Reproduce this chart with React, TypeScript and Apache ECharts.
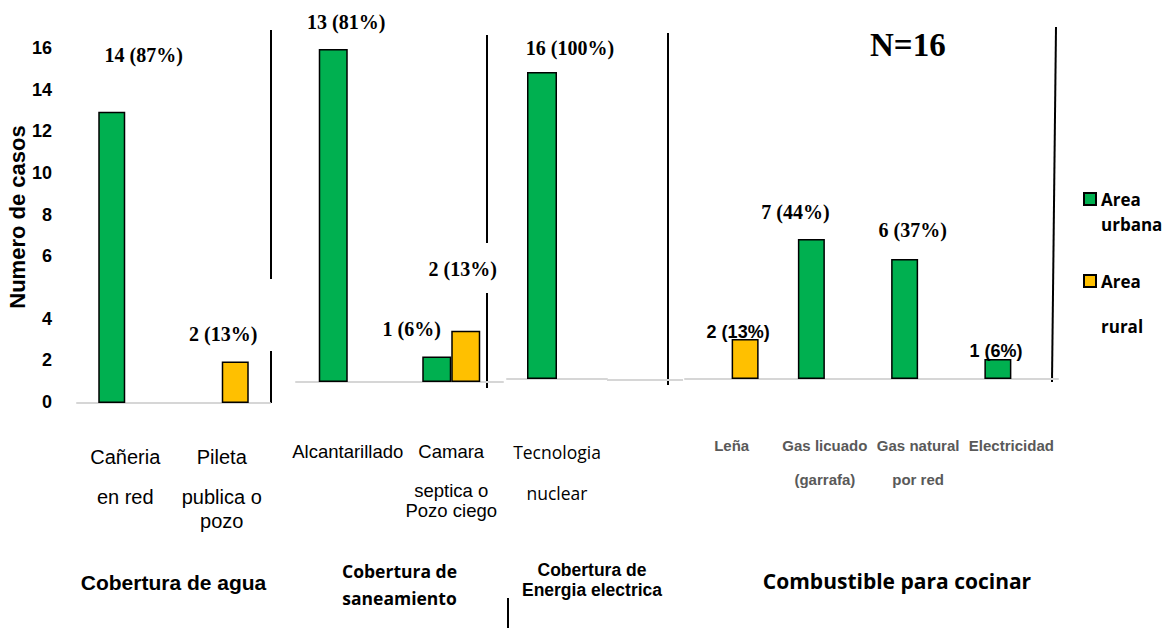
import React, { useEffect, useRef } from "react";
import * as echarts from "echarts";

// ---------------- DATA ----------------
const SERIES_URBAN = "Area urbana";
const SERIES_RURAL = "Area rural";

const yTickLabels = ["0", "", "2", "", "4", "", "", "6", "", "8", "", "10", "", "12", "", "14", "", "16"];

const aguaCategories = ["Cañeria\nen red", "Pileta\npublica o\npozo"];
const aguaUrban = [14, null];
const aguaRural = [null, 2];
const aguaUrbanLabels = ["14 (87%)", ""];
const aguaRuralLabels = ["", "2 (13%)"];
const aguaTitle = "Cobertura de agua";

const saneamientoCategories = ["Alcantarillado", "Camara\nseptica o\nPozo ciego"];
const saneamientoUrban = [13, 1];
const saneamientoRural = [null, 2];
const saneamientoUrbanLabels = ["13 (81%)", "1 (6%)"];
const saneamientoRuralLabels = ["", "2 (13%)"];
const saneamientoTitle = "Cobertura de\nsaneamiento";

const energiaCategories = ["Tecnologia\nnuclear"];
const energiaUrban = [16];
const energiaRural = [null];
const energiaUrbanLabels = ["16 (100%)"];
const energiaRuralLabels = [""];
const energiaTitle = "Cobertura de\nEnergia electrica";

const combustibleCategories = ["Leña", "Gas licuado\n(garrafa)", "Gas natural\npor red", "Electricidad"];
const combustibleUrban = [null, 7, 6, 1];
const combustibleRural = [2, null, null, null];
const combustibleUrbanLabels = ["", "7 (44%)", "6 (37%)", "1 (6%)"];
const combustibleRuralLabels = ["2 (13%)", "", "", ""];
const combustibleTitle = "Combustible para cocinar";

const yAxisName = "Numero de casos";
const totalText = "N=16";
// leading blank lines keep the first text line level with the legend square
const legendText: Record<string, string> = {
  [SERIES_URBAN]: "\nArea\nurbana",
  [SERIES_RURAL]: "\n\nArea\n\nrural",
};

// ---------------- STYLE / LAYOUT ----------------
const GREEN = "#00B050";
const YELLOW = "#FFC000";
const AXIS_GRAY = "#d6d6d6";

const SERIF = { fontFamily: "Liberation Serif", fontWeight: "bold", fontSize: 20, color: "#000" };
const SANS = { fontFamily: "Liberation Sans", fontWeight: "bold", fontSize: 18, color: "#000" };

type LL = { offset: number[]; font: any } | null;

const PANELS = [
  {
    cats: aguaCategories, urban: aguaUrban, rural: aguaRural,
    urbanLabels: aguaUrbanLabels, ruralLabels: aguaRuralLabels, title: aguaTitle,
    grid: { left: 77, top: 70, width: 193, height: 333 }, max: 16, barWidth: 27,
    catFont: { fontFamily: "Liberation Sans", fontSize: 20, color: "#000", fontWeight: "normal" },
    lineHeights: [56, 24, 24], labelMargin: 26,
    titleGap: 167, titlePad: [0, 0, 0, 0],
    titleFont: { fontFamily: "Liberation Sans", fontWeight: "bold", fontSize: 21, lineHeight: 24, color: "#000" },
    urbanLL: [{ offset: [32, -42], font: SERIF }, null] as LL[],
    ruralLL: [null, { offset: [-12, -12], font: SERIF }] as LL[],
  },
  {
    cats: saneamientoCategories, urban: saneamientoUrban, rural: saneamientoRural,
    urbanLabels: saneamientoUrbanLabels, ruralLabels: saneamientoRuralLabels, title: saneamientoTitle,
    grid: { left: 296, top: 49, width: 207, height: 333 }, max: 13, barWidth: 29,
    catFont: { fontFamily: "Liberation Sans", fontSize: 18.5, color: "#000", fontWeight: "normal" },
    lineHeights: [56, 22, 18], labelMargin: 41,
    titleGap: 175, titlePad: [0, 0, 0, 0],
    titleFont: { fontFamily: "Open Sans", fontWeight: "bold", fontSize: 17.5, lineHeight: 27, color: "#000" },
    urbanLL: [{ offset: [13, -12], font: SERIF }, { offset: [-25, -12], font: SERIF }] as LL[],
    ruralLL: [null, { offset: [-3, -47], font: SERIF }] as LL[],
  },
  {
    cats: energiaCategories, urban: energiaUrban, rural: energiaRural,
    urbanLabels: energiaUrbanLabels, ruralLabels: energiaRuralLabels, title: energiaTitle,
    grid: { left: 507, top: 72, width: 100, height: 307 }, max: 16, barWidth: 30,
    catFont: { fontFamily: "Open Sans", fontSize: 17.5, color: "#000", fontWeight: "normal" },
    lineHeights: [56, 26], labelMargin: 45,
    titleGap: 181, titlePad: [0, 0, 0, 70],
    titleFont: { fontFamily: "Liberation Sans", fontWeight: "bold", fontSize: 17.5, lineHeight: 20, color: "#000" },
    urbanLL: [{ offset: [28, -9], font: SERIF }] as LL[],
    ruralLL: [null] as LL[],
  },
  {
    cats: combustibleCategories, urban: combustibleUrban, rural: combustibleRural,
    urbanLabels: combustibleUrbanLabels, ruralLabels: combustibleRuralLabels, title: combustibleTitle,
    grid: { left: 685, top: 59, width: 373, height: 320 }, max: 16, barWidth: 27,
    catFont: { fontFamily: "Liberation Sans", fontSize: 15, color: "#595959", fontWeight: "bold" },
    lineHeights: [40, 28], labelMargin: 46,
    titleGap: 189, titlePad: [0, 0, 0, 51],
    titleFont: { fontFamily: "Open Sans", fontWeight: "bold", fontSize: 21, lineHeight: 26, color: "#000" },
    urbanLL: [null, { offset: [-16, -12], font: SERIF }, { offset: [8, -14], font: SERIF }, { offset: [-2, 6], font: SANS }] as LL[],
    ruralLL: [{ offset: [-7, 7], font: SANS }, null, null, null] as LL[],
  },
];

// decorative separators (not data marks)
const SEPARATORS = [
  [271, 30, 271, 279],
  [271, 351, 271, 403],
  [487, 35, 487, 243],
  [487, 293, 487, 388],
  [668, 33, 668, 385],
  [1056, 27, 1052, 382],
  [508, 598, 508, 628],
];

function buildData(values: (number | null)[], labels: string[], layout: LL[]) {
  return values.map((v, i) => {
    if (v == null) return null;
    const ll = layout[i];
    if (!ll || !labels[i]) return { value: v, label: { show: false } };
    return {
      value: v,
      label: {
        show: true,
        position: "top",
        distance: 5,
        formatter: labels[i],
        offset: ll.offset,
        ...ll.font,
      },
    };
  });
}

function buildOption() {
  const grid: any[] = [];
  const xAxis: any[] = [];
  const yAxis: any[] = [];
  const series: any[] = [];

  PANELS.forEach((p, idx) => {
    grid.push({ ...p.grid, containLabel: false });
    const rich: any = {};
    p.lineHeights.forEach((lh, i) => {
      rich["l" + i] = { ...p.catFont, lineHeight: lh };
    });
    xAxis.push({
      type: "category",
      gridIndex: idx,
      data: p.cats,
      axisTick: { show: false },
      axisLine: { show: true, lineStyle: { color: AXIS_GRAY, width: 2 } },
      axisLabel: {
        interval: 0,
        margin: p.labelMargin,
        formatter: (v: string) => v.split("\n").map((s, i) => `{l${i}|${s}}`).join("\n"),
        rich,
      },
      name: p.title,
      nameLocation: "middle",
      nameGap: p.titleGap,
      nameTextStyle: { ...p.titleFont, padding: p.titlePad, align: "center" },
    });
    yAxis.push({ type: "value", gridIndex: idx, min: 0, max: p.max, show: false });
    const common = {
      type: "bar",
      xAxisIndex: idx,
      yAxisIndex: idx,
      barWidth: p.barWidth,
      barGap: "0%",
    };
    series.push({
      ...common,
      name: SERIES_URBAN,
      itemStyle: { color: GREEN, borderColor: "#000", borderWidth: 1.5 },
      data: buildData(p.urban, p.urbanLabels, p.urbanLL),
    });
    series.push({
      ...common,
      name: SERIES_RURAL,
      itemStyle: { color: YELLOW, borderColor: "#000", borderWidth: 1.5 },
      data: buildData(p.rural, p.ruralLabels, p.ruralLL),
    });
  });

  // y tick label axis
  grid.push({ left: 60, top: 48, width: 5, height: 354, containLabel: false });
  xAxis.push({ type: "value", gridIndex: 4, show: false });
  yAxis.push({
    type: "category",
    gridIndex: 4,
    boundaryGap: false,
    data: yTickLabels,
    axisLine: { show: false },
    axisTick: { show: false },
    splitLine: { show: false },
    axisLabel: {
      interval: 0,
      margin: 8,
      fontFamily: "Liberation Sans",
      fontWeight: "bold",
      fontSize: 18,
      color: "#000",
    },
    name: yAxisName,
    nameLocation: "middle",
    nameRotate: 90,
    nameGap: 25,
    nameTextStyle: { fontFamily: "Liberation Sans", fontWeight: "bold", fontSize: 22, color: "#000", padding: [0, 0, 0, 16] },
  });

  const legendCommon = {
    orient: "vertical",
    icon: "rect",
    itemWidth: 12,
    itemHeight: 12,
    padding: 0,
    selectedMode: false,
    formatter: (n: string) => legendText[n],
  };
  const legendFont = { fontFamily: "Open Sans", fontWeight: "bold", fontSize: 17, color: "#000" };

  const graphic: any[] = SEPARATORS.map((s) => ({
    type: "line",
    shape: { x1: s[0], y1: s[1], x2: s[2], y2: s[3] },
    style: { stroke: "#000", lineWidth: 2 },
    silent: true,
  }));
  graphic.push({
    type: "line",
    shape: { x1: 607, y1: 380, x2: 683, y2: 380 },
    style: { stroke: AXIS_GRAY, lineWidth: 2 },
    silent: true,
  });

  return {
    animation: false,
    backgroundColor: "#fff",
    title: {
      text: totalText,
      left: 870,
      top: 28,
      padding: 0,
      textStyle: { fontFamily: "Liberation Serif", fontWeight: "bold", fontSize: 33, color: "#000" },
    },
    legend: [
      {
        ...legendCommon,
        left: 1083,
        top: 161.5,
        textStyle: { ...legendFont, lineHeight: 25 },
        data: [SERIES_URBAN],
      },
      {
        ...legendCommon,
        left: 1083,
        top: 224.75,
        textStyle: { ...legendFont, lineHeight: 22.5 },
        data: [SERIES_RURAL],
      },
    ],
    grid,
    xAxis,
    yAxis,
    series,
    graphic,
  };
}

export default function App() {
  const ref = useRef<HTMLDivElement>(null);
  useEffect(() => {
    document.body.style.margin = "0";
    if (!ref.current) return;
    const chart = echarts.init(ref.current, undefined, { renderer: "svg" });
    chart.setOption(buildOption() as any);
    return () => chart.dispose();
  }, []);
  return <div ref={ref} style={{ width: 1164, height: 629 }} />;
}
